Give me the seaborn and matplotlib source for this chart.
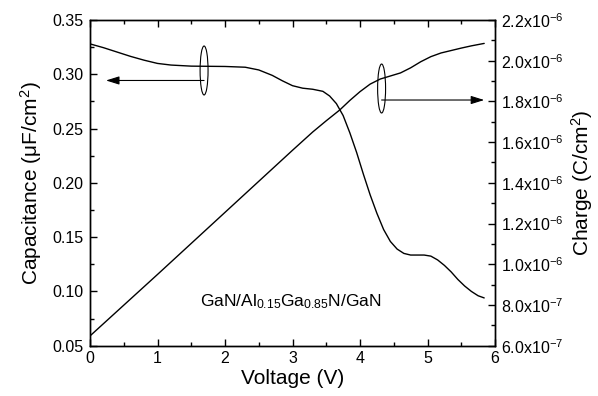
import numpy as np
import pandas as pd
import matplotlib
matplotlib.use("Agg")
import matplotlib.pyplot as plt
import matplotlib.ticker as mticker
from matplotlib.patches import Ellipse
import seaborn as sns

# ---- data ----
cap_voltage = [0, 0.2, 0.4, 0.6, 0.8, 1.0, 1.2, 1.5, 2.0, 2.3, 2.5, 2.7, 2.85,
               3.0, 3.15, 3.3, 3.45, 3.55, 3.65, 3.75, 3.85, 3.95, 4.05, 4.15,
               4.25, 4.35, 4.45, 4.55, 4.65, 4.75, 4.85, 4.95, 5.05, 5.15, 5.25,
               5.35, 5.45, 5.55, 5.65, 5.75, 5.84]
capacitance = [0.328, 0.3245, 0.3205, 0.3165, 0.313, 0.310, 0.3085, 0.3075,
               0.3072, 0.3065, 0.3040, 0.2990, 0.2940, 0.2895, 0.2872, 0.2862,
               0.2843, 0.2800, 0.2730, 0.2620, 0.2460, 0.2280, 0.2080, 0.1890,
               0.1720, 0.1570, 0.1460, 0.1390, 0.1350, 0.1335, 0.1335, 0.1335,
               0.1325, 0.1290, 0.1240, 0.1180, 0.1110, 0.1050, 0.1000, 0.0960,
               0.0940]

chg_voltage = [0, 1.0, 2.0, 3.0, 3.3, 3.5, 3.7, 3.85, 4.0, 4.15, 4.3, 4.45,
               4.6, 4.75, 4.9, 5.05, 5.2, 5.35, 5.5, 5.65, 5.84]
charge = [6.48e-7, 9.5e-7, 12.55e-7, 15.6e-7, 16.5e-7, 17.05e-7, 17.58e-7,
          18.05e-7, 18.48e-7, 18.85e-7, 19.1e-7, 19.25e-7, 19.4e-7, 19.65e-7,
          19.95e-7, 20.2e-7, 20.38e-7, 20.5e-7, 20.62e-7, 20.73e-7, 20.85e-7]

x_ticks = [0, 1, 2, 3, 4, 5, 6]
left_ticks = [0.05, 0.10, 0.15, 0.20, 0.25, 0.30, 0.35]
right_ticks = [6e-7, 8e-7, 1.0e-6, 1.2e-6, 1.4e-6, 1.6e-6, 1.8e-6, 2.0e-6, 2.2e-6]

sns.set_style("ticks")
plt.rcParams["font.family"] = ["Liberation Sans", "DejaVu Sans"]
plt.rcParams["mathtext.default"] = "regular"
for k in ("text.color", "axes.labelcolor", "xtick.color", "ytick.color",
          "axes.edgecolor"):
    plt.rcParams[k] = "black"

fig = plt.figure(figsize=(5.98, 3.96), dpi=100)
ax = fig.add_axes([90 / 598, 1 - 345.7 / 396, 405 / 598, 325.7 / 396])
ax2 = ax.twinx()

cap_df = pd.DataFrame({"V": cap_voltage, "C": capacitance})
chg_df = pd.DataFrame({"V": chg_voltage, "Q": charge})
sns.lineplot(data=cap_df, x="V", y="C", ax=ax, color="black", lw=1.0)
sns.lineplot(data=chg_df, x="V", y="Q", ax=ax2, color="black", lw=1.0)

ax.set_xlim(0, 6)
ax.set_ylim(0.05, 0.35)
ax2.set_ylim(6e-7, 2.2e-6)

ax.set_xticks(x_ticks)
ax.xaxis.set_minor_locator(mticker.MultipleLocator(0.5))
ax.set_yticks(left_ticks)
ax.yaxis.set_minor_locator(mticker.MultipleLocator(0.025))
ax.yaxis.set_major_formatter(mticker.FormatStrFormatter("%.2f"))
ax2.set_yticks(right_ticks)
ax2.yaxis.set_minor_locator(mticker.MultipleLocator(1e-7))


def sci_fmt(v, pos):
    e = int(np.floor(np.log10(v) + 1e-9))
    m = v / 10 ** e
    return f"{m:.1f}x10$^{{{e}}}$"


ax2.yaxis.set_major_formatter(mticker.FuncFormatter(sci_fmt))

for a in (ax, ax2):
    for s in a.spines.values():
        s.set_linewidth(1.0)
        s.set_color("black")

ax.tick_params(axis="x", which="both", direction="in", top=True, bottom=True,
               labelsize=11.5, pad=4, color="black", labelcolor="black")
ax.tick_params(axis="y", which="both", direction="in", left=True, right=False,
               labelsize=11.5, pad=5, color="black", labelcolor="black")
ax.tick_params(which="major", length=5, width=1)
ax.tick_params(which="minor", length=3, width=1)
ax2.tick_params(axis="y", which="both", direction="in", right=True, left=False,
                labelsize=11.5, pad=4, color="black", labelcolor="black")
ax2.tick_params(which="major", length=5, width=1)
ax2.tick_params(which="minor", length=3, width=1)

ax.set_xlabel("Voltage (V)", fontsize=15, labelpad=2, color="black")
ax.set_ylabel("Capacitance (μF/cm$^2$)", fontsize=15, labelpad=6, color="black")
ax2.set_ylabel("Charge (C/cm$^2$)", fontsize=15, rotation=90, labelpad=4,
               color="black")

# ellipses with arrows
ax.add_patch(Ellipse((1.69, 0.3035), 0.118, 0.0451, fill=False, ec="black", lw=0.8))
ax.annotate("", xy=(0.237, 0.2943), xytext=(1.69, 0.2943),
            arrowprops=dict(arrowstyle="-|>,head_length=0.8,head_width=0.25",
                            color="black", lw=0.8, shrinkA=0, shrinkB=0))
ax.add_patch(Ellipse((4.32, 0.2869), 0.118, 0.0451, fill=False, ec="black", lw=0.8))
ax.annotate("", xy=(5.84, 0.2763), xytext=(4.32, 0.2763),
            arrowprops=dict(arrowstyle="-|>,head_length=0.8,head_width=0.25",
                            color="black", lw=0.8, shrinkA=0, shrinkB=0))

ax.text(1.63, 0.0866, "GaN/Al$_{0.15}$Ga$_{0.85}$N/GaN", fontsize=12.5,
        ha="left", va="baseline", color="black")

fig.savefig("out.png", dpi=100)
